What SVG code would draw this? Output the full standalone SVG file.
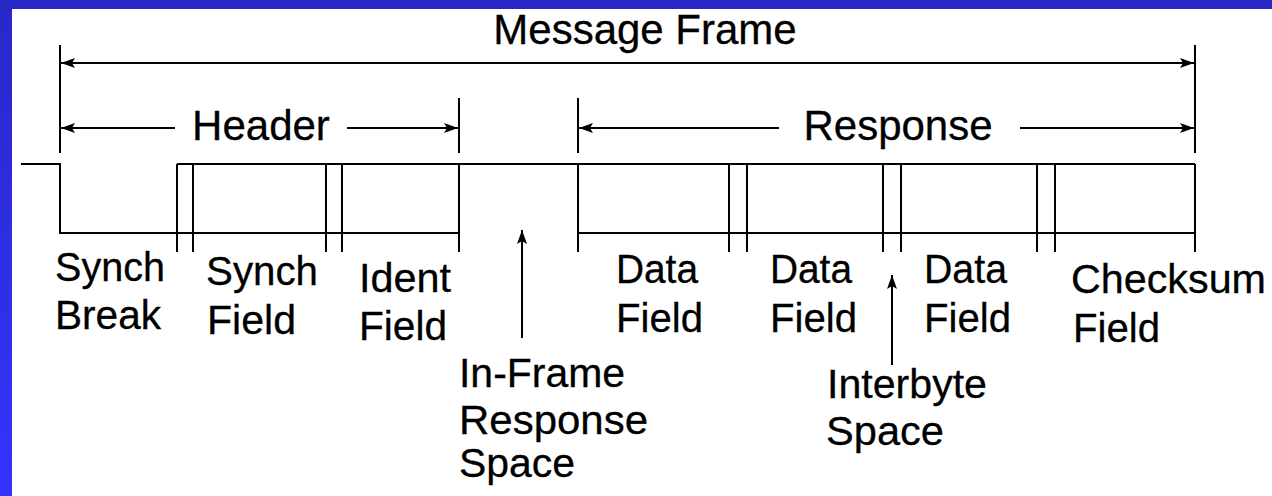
<svg xmlns="http://www.w3.org/2000/svg" width="1272" height="496" viewBox="0 0 1272 496">
  <defs>
    <linearGradient id="edge" x1="0" y1="0" x2="0" y2="1">
      <stop offset="0" stop-color="#2828c8"/>
      <stop offset="1" stop-color="#3434ff"/>
    </linearGradient>
    <marker id="head" viewBox="0 0 14 10" refX="14" refY="5" markerWidth="14" markerHeight="10" markerUnits="userSpaceOnUse" orient="auto-start-reverse">
      <path d="M0,0 L14,5 L0,10 L3,5 Z" fill="#000"/>
    </marker>
    <style>
      .ln { stroke: #000; stroke-width: 2; fill: none; }
      .dim { stroke: #000; stroke-width: 2; fill: none; marker-end: url(#head); }
      .lbl { font-family: "Liberation Sans", Arial, sans-serif; font-size: 41px; fill: #000; stroke: #000; stroke-width: 0.3; }
      .ttl { font-family: "Liberation Sans", Arial, sans-serif; font-size: 42px; fill: #000; stroke: #000; stroke-width: 0.3; }
    </style>
  </defs>

  <!-- page frame -->
  <rect x="0" y="0" width="1272" height="496" fill="#ffffff"/>
  <rect x="0" y="0" width="1272" height="9" fill="#2828c8"/>
  <rect x="0" y="0" width="12" height="496" fill="url(#edge)"/>

  <!-- dimension markers and signal trace -->
  <g id="connectors">
    <!-- extension lines -->
    <line class="ln" x1="60" y1="45" x2="60" y2="153"/>
    <line class="ln" x1="1195" y1="45" x2="1195" y2="153"/>
    <line class="ln" x1="459" y1="98" x2="459" y2="153"/>
    <line class="ln" x1="578" y1="98" x2="578" y2="153"/>

    <!-- Message Frame span -->
    <line class="dim" x1="628" y1="63" x2="61" y2="63"/>
    <line class="dim" x1="628" y1="63" x2="1194" y2="63"/>

    <!-- Header span -->
    <line class="dim" x1="175" y1="128" x2="61" y2="128"/>
    <line class="dim" x1="347" y1="128" x2="458" y2="128"/>

    <!-- Response span -->
    <line class="dim" x1="779" y1="128" x2="579" y2="128"/>
    <line class="dim" x1="1020" y1="128" x2="1194" y2="128"/>

    <!-- signal: idle, synch break low, then fields -->
    <polyline class="ln" points="21,164 60,164 60,233 459,233"/>
    <line class="ln" x1="177" y1="164" x2="1195" y2="164"/>
    <line class="ln" x1="578" y1="233" x2="1195" y2="233"/>

    <!-- field boundaries -->
    <line class="ln" x1="177" y1="164" x2="177" y2="252"/>
    <line class="ln" x1="193" y1="164" x2="193" y2="252"/>
    <line class="ln" x1="326" y1="164" x2="326" y2="252"/>
    <line class="ln" x1="342" y1="164" x2="342" y2="252"/>
    <line class="ln" x1="459" y1="164" x2="459" y2="252"/>
    <line class="ln" x1="578" y1="164" x2="578" y2="252"/>
    <line class="ln" x1="729" y1="164" x2="729" y2="252"/>
    <line class="ln" x1="747" y1="164" x2="747" y2="252"/>
    <line class="ln" x1="883" y1="164" x2="883" y2="252"/>
    <line class="ln" x1="901" y1="164" x2="901" y2="252"/>
    <line class="ln" x1="1037" y1="164" x2="1037" y2="252"/>
    <line class="ln" x1="1055" y1="164" x2="1055" y2="252"/>
    <line class="ln" x1="1195" y1="164" x2="1195" y2="252"/>

    <!-- pointers to the gaps -->
    <line class="dim" x1="522" y1="338" x2="522" y2="230"/>
    <line class="dim" x1="892" y1="365" x2="892" y2="275"/>
  </g>

  <g id="message-frame"><text class="ttl" x="645" y="44" text-anchor="middle">Message Frame</text></g>
  <g id="header"><text class="ttl" x="261" y="140" text-anchor="middle">Header</text></g>
  <g id="response"><text class="ttl" x="898" y="140" text-anchor="middle">Response</text></g>

  <g id="synch-break">
    <text class="lbl" x="55" y="281" textLength="110" lengthAdjust="spacingAndGlyphs">Synch</text>
    <text class="lbl" x="55" y="329" textLength="106" lengthAdjust="spacingAndGlyphs">Break</text>
  </g>
  <g id="synch-field">
    <text class="lbl" x="206" y="285" textLength="112" lengthAdjust="spacingAndGlyphs">Synch</text>
    <text class="lbl" x="207" y="334" textLength="89" lengthAdjust="spacingAndGlyphs">Field</text>
  </g>
  <g id="ident-field">
    <text class="lbl" x="359" y="292" textLength="92" lengthAdjust="spacingAndGlyphs">Ident</text>
    <text class="lbl" x="359" y="340" textLength="88" lengthAdjust="spacingAndGlyphs">Field</text>
  </g>
  <g id="in-frame-response-space">
    <text class="lbl" x="459" y="387" textLength="166" lengthAdjust="spacingAndGlyphs">In-Frame</text>
    <text class="lbl" x="459" y="434" textLength="189" lengthAdjust="spacingAndGlyphs">Response</text>
    <text class="lbl" x="459" y="477" textLength="116" lengthAdjust="spacingAndGlyphs">Space</text>
  </g>
  <g id="data-field-1">
    <text class="lbl" x="616" y="283" textLength="82" lengthAdjust="spacingAndGlyphs">Data</text>
    <text class="lbl" x="616" y="332" textLength="87" lengthAdjust="spacingAndGlyphs">Field</text>
  </g>
  <g id="data-field-2">
    <text class="lbl" x="770" y="283" textLength="82" lengthAdjust="spacingAndGlyphs">Data</text>
    <text class="lbl" x="770" y="332" textLength="87" lengthAdjust="spacingAndGlyphs">Field</text>
  </g>
  <g id="data-field-3">
    <text class="lbl" x="924" y="283" textLength="83" lengthAdjust="spacingAndGlyphs">Data</text>
    <text class="lbl" x="924" y="332" textLength="87" lengthAdjust="spacingAndGlyphs">Field</text>
  </g>
  <g id="interbyte-space">
    <text class="lbl" x="827" y="398" textLength="160" lengthAdjust="spacingAndGlyphs">Interbyte</text>
    <text class="lbl" x="826" y="445" textLength="118" lengthAdjust="spacingAndGlyphs">Space</text>
  </g>
  <g id="checksum-field">
    <text class="lbl" x="1071" y="293" textLength="195" lengthAdjust="spacingAndGlyphs">Checksum</text>
    <text class="lbl" x="1073" y="342" textLength="87" lengthAdjust="spacingAndGlyphs">Field</text>
  </g>
</svg>
